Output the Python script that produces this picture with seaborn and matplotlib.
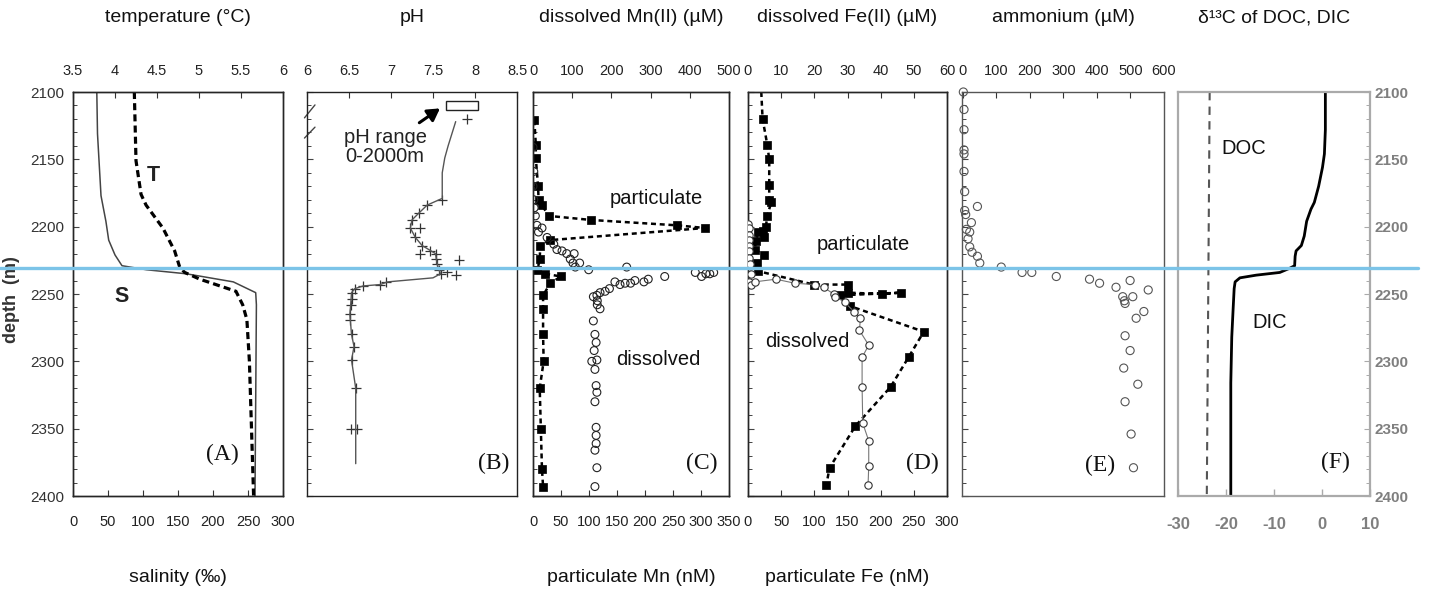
import numpy as np
import pandas as pd
import matplotlib
matplotlib.use("Agg")
import matplotlib.pyplot as plt
import seaborn as sns
from matplotlib.lines import Line2D
from matplotlib.patches import Rectangle
from matplotlib.ticker import MultipleLocator, FixedLocator

# ---------------- data ----------------
# (A) salinity (solid) and temperature (dashed)
sal_depth = [2100, 2131, 2177, 2196, 2210, 2221, 2229, 2232, 2235, 2241, 2249, 2258, 2400]
sal_val = [34, 35, 40, 47, 51, 60, 70, 105, 162, 229, 261, 262, 260]
temp_depth = [2100, 2151, 2176, 2184, 2201, 2218, 2230, 2234, 2239, 2248, 2258, 2269, 2300, 2400]
temp_val = [4.23, 4.25, 4.31, 4.37, 4.57, 4.71, 4.77, 4.83, 5.01, 5.44, 5.52, 5.57, 5.60, 5.65]

# (B) pH
ph_line_depth = [2122, 2140, 2149, 2160, 2179, 2184, 2190, 2195, 2201, 2208, 2214, 2220, 2228, 2235,
                 2238, 2241, 2243, 2244, 2246, 2249, 2258, 2265, 2280, 2289, 2299, 2320, 2376]
ph_line_val = [7.77, 7.68, 7.64, 7.61, 7.61, 7.43, 7.33, 7.25, 7.23, 7.29, 7.37, 7.53, 7.55, 7.59,
               7.50, 6.96, 6.87, 6.67, 6.57, 6.53, 6.52, 6.51, 6.53, 6.56, 6.53, 6.58, 6.58]
ph_pt_depth = [2120, 2180, 2184, 2190, 2195, 2201, 2201, 2208, 2214, 2220, 2218, 2220, 2224, 2225,
               2228, 2232, 2234, 2236, 2235, 2241, 2243, 2244, 2246, 2249, 2254, 2258, 2265, 2269,
               2280, 2289, 2299, 2320, 2350, 2350]
ph_pt_val = [7.90, 7.61, 7.43, 7.33, 7.25, 7.23, 7.35, 7.29, 7.37, 7.34, 7.47, 7.53, 7.53, 7.81,
             7.55, 7.57, 7.67, 7.77, 7.59, 6.94, 6.87, 6.67, 6.57, 6.53, 6.53, 6.52, 6.51, 6.51,
             6.53, 6.56, 6.53, 6.58, 6.52, 6.60]
ph_range = [7.65, 8.04]          # pH range 0-2000 m
ph_range_depth = [2107, 2113]

# (C) manganese
mnp_depth = [2121, 2139, 2149, 2170, 2180, 2184, 2192, 2195, 2199, 2201, 2210, 2214, 2224, 2232,
             2235, 2237, 2242, 2251, 2261, 2280, 2300, 2320, 2350, 2380, 2393]
mnp_val = [2.4, 5, 5, 9, 10, 16, 28, 103, 257, 307, 30, 13, 12, 8, 22, 50, 31, 18, 18, 18, 19, 12,
           14, 16, 18]
mnd_depth = [2141, 2159, 2170, 2180, 2186, 2192, 2199, 2201, 2204, 2208, 2213, 2217, 2218, 2220,
             2220, 2224, 2227, 2230, 2227, 2232, 2230, 2237, 2234, 2237, 2235, 2235, 2234, 2239,
             2241, 2240, 2242, 2242, 2243, 2241, 2246, 2248, 2249, 2251, 2252, 2255, 2261, 2258,
             2270, 2280, 2286, 2292, 2300, 2299, 2306, 2318, 2323, 2330, 2349, 2355, 2361, 2366,
             2379, 2393]
mnd_val = [0, 2, 0, 2, 3, 6, 10, 23, 14, 36, 53, 61, 74, 86, 105, 95, 102, 108, 119, 142, 239, 336,
           414, 430, 441, 451, 461, 294, 283, 260, 249, 235, 222, 209, 195, 184, 171, 163, 154, 164,
           171, 164, 154, 158, 161, 156, 150, 163, 158, 161, 163, 158, 161, 161, 161, 158, 163, 158]

# (D) iron
fep_depth = [2100, 2120, 2139, 2150, 2169, 2180, 2182, 2192, 2200, 2203, 2208, 2204, 2211, 2217,
             2221, 2227, 2233, 2243, 2243, 2249, 2250, 2249, 2251, 2259, 2278, 2297, 2319, 2348,
             2379, 2392]
fep_val = [20, 22, 29, 32, 32, 32, 35, 29, 27, 22, 24, 15, 12, 10, 24, 14, 15, 99, 151, 151, 202,
           231, 139, 154, 265, 242, 215, 162, 123, 118]
fed_depth = [2198, 2201, 2206, 2210, 2214, 2218, 2223, 2228, 2235, 2241, 2243, 2241, 2239, 2242,
             2243, 2245, 2250, 2252, 2256, 2263, 2268, 2277, 2288, 2297, 2319, 2346, 2359, 2378,
             2392]
fed_val = [0.0, 0.2, 0.2, 0.4, 0.2, 0.4, 0.4, 0.7, 1.0, 0.2, 1.0, 2.0, 8.4, 14.1, 20.1, 22.8, 25.8,
           26.3, 29.1, 31.9, 33.9, 33.6, 36.4, 34.4, 34.4, 34.6, 36.4, 36.4, 36.2]

# (E) ammonium
nh4_depth = [2100, 2113, 2128, 2143, 2146, 2159, 2174, 2185, 2188, 2191, 2197, 2202, 2204, 2209,
             2215, 2219, 2222, 2227, 2230, 2234, 2234, 2237, 2239, 2242, 2245, 2240, 2252, 2255,
             2257, 2252, 2247, 2263, 2268, 2281, 2292, 2305, 2317, 2330, 2354, 2379]
nh4_val = [2, 4, 4, 4, 4, 4, 6, 44, 6, 9, 26, 11, 21, 16, 21, 28, 44, 51, 115, 177, 206, 279, 378,
           408, 457, 499, 477, 482, 484, 507, 553, 540, 517, 484, 499, 480, 522, 484, 502, 509]

# (F) delta13C
doc_depth = [2100, 2400]
doc_val = [-23.4, -24.0]
dic_depth = [2100, 2128, 2146, 2156, 2170, 2182, 2187, 2196, 2207, 2214, 2218, 2222, 2229, 2231,
             2234, 2236, 2238, 2241, 2246, 2260, 2282, 2316, 2400]
dic_val = [0.7, 0.7, 0.5, 0.1, -0.7, -1.6, -2.3, -3.2, -3.7, -4.3, -5.4, -5.6, -5.7, -6.8, -8.8,
           -13.7, -17.1, -18.1, -18.3, -18.5, -18.8, -19.0, -19.0]

chemocline_depth = 2231

# ---------------- style ----------------
sns.set_theme(style="white")
plt.rcParams['font.family'] = ['Liberation Sans', 'DejaVu Sans']
plt.rcParams['axes.linewidth'] = 1.0

W, H = 1429, 598
fig = plt.figure(figsize=(W / 100, H / 100), dpi=100)


def rect(x0, x1, y0=92, y1=496):
    return [x0 / W, 1 - y1 / H, (x1 - x0) / W, (y1 - y0) / H]


TICK_C = '#222222'
TL = dict(labelsize=10.5, labelcolor=TICK_C, direction='in', color='#333333')
LBL = 14.5      # in-panel labels
SER = 17        # panel letters


def base_axis(ax, spine_color='#222222'):
    ax.set_ylim(2400, 2100)
    ax.yaxis.set_major_locator(MultipleLocator(50))
    ax.yaxis.set_minor_locator(MultipleLocator(10))
    ax.tick_params(axis='y', which='both', direction='in', left=True, right=False,
                   labelleft=False, color='#444444')
    ax.tick_params(axis='y', which='major', length=4, width=0.8)
    ax.tick_params(axis='y', which='minor', length=3, width=0.7)
    for s in ax.spines.values():
        s.set_color(spine_color)
        s.set_linewidth(1.0)
    ax.set_xlabel('')
    ax.set_ylabel('')
    ax.grid(False)


def top_axis(ax, lim, ticks, labels):
    ax.set_xlim(*lim)
    ax.xaxis.set_major_locator(FixedLocator(ticks))
    ax.set_xticklabels(labels)
    ax.tick_params(axis='x', which='major', top=True, bottom=False, labeltop=True,
                   labelbottom=False, length=4, width=0.8, pad=10, **TL)
    ax.xaxis.set_label_position('top')
    ax.set_xlabel('')


def bottom_axis(ax, lim, ticks, labels):
    ax.set_xlim(*lim)
    ax.xaxis.set_major_locator(FixedLocator(ticks))
    ax.set_xticklabels(labels)
    ax.tick_params(axis='x', which='major', bottom=True, top=False, labelbottom=True,
                   labeltop=False, length=4, width=0.8, pad=14, **TL)
    ax.set_xlabel('')


def dash(ax, pattern):
    ax.lines[-1].set_dashes(pattern)


serif = ['Liberation Serif', 'DejaVu Serif']

# ---------- (A) ----------
axA = fig.add_axes(rect(73, 283))
sns.lineplot(x=sal_val, y=sal_depth, sort=False, estimator=None, ax=axA, color='#444444', lw=1.1)
base_axis(axA)
bottom_axis(axA, (0, 300), [0, 50, 100, 150, 200, 250, 300], ['0', '50', '100', '150', '200', '250', '300'])
axA.tick_params(axis='y', which='major', labelleft=True, labelsize=11, labelcolor='#333333', pad=6)
axA.set_yticks([2100, 2150, 2200, 2250, 2300, 2350, 2400])
axA.set_yticklabels(['2100', '2150', '2200', '2250', '2300', '2350', '2400'])
axA.set_ylim(2400, 2100)
axAt = axA.twiny()
sns.lineplot(x=temp_val, y=temp_depth, sort=False, estimator=None, ax=axAt, color='black', lw=2.3)
dash(axAt, [2.2, 1.3])
top_axis(axAt, (3.5, 6), [3.5, 4, 4.5, 5, 5.5, 6], ['3.5', '4', '4.5', '5', '5.5', '6'])
axAt.set_ylim(2400, 2100)
axAt.set_ylabel('')
axA.text(115, 2162, 'T', fontsize=15.5, fontweight='bold', color='#222222', ha='center', va='center')
axA.text(69, 2252, 'S', fontsize=15.5, fontweight='bold', color='#222222', ha='center', va='center')
axA.text(214, 2369, '(A)', fontsize=SER, family=serif, ha='center', va='center', color='#111111')

# ---------- (B) ----------
axB = fig.add_axes(rect(307, 517))
sns.lineplot(x=ph_line_val, y=ph_line_depth, sort=False, estimator=None, ax=axB, color='#555555', lw=1.0)
sns.scatterplot(x=ph_pt_val, y=ph_pt_depth, ax=axB, marker='+', s=45, color='#333333', linewidth=0.9)
base_axis(axB)
top_axis(axB, (6, 8.5), [6, 6.5, 7, 7.5, 8, 8.5], ['6', '6.5', '7', '7.5', '8', '8.5'])
axB.set_ylim(2400, 2100)
axB.add_patch(Rectangle((ph_range[0], ph_range_depth[0]), ph_range[1] - ph_range[0],
                        ph_range_depth[1] - ph_range_depth[0], fill=False, ec='#222222', lw=1.0))
axB.annotate('', xy=(ph_range[0] - 0.04, 2111), xytext=(7.31, 2124),
             arrowprops=dict(arrowstyle='-|>,head_length=0.6,head_width=0.35', color='black', lw=2.2))
axB.text(6.93, 2141, 'pH range\n0-2000m', fontsize=LBL, ha='center', va='center', color='#222222',
         linespacing=1.0)
for y0, y1 in [(0.936, 0.968), (0.886, 0.913)]:
    axB.plot([-0.012, 0.038], [y0, y1], transform=axB.transAxes, color='#444444', lw=1.0, clip_on=False)
axB.text(8.22, 2376, '(B)', fontsize=SER, family=serif, ha='center', va='center', color='#111111')

# ---------- (C) ----------
axC = fig.add_axes(rect(533, 729))
sns.lineplot(x=mnp_val, y=mnp_depth, sort=False, estimator=None, ax=axC, color='black', lw=1.8)
dash(axC, [2.0, 1.5])
sns.scatterplot(x=mnp_val, y=mnp_depth, ax=axC, marker='s', s=28, color='black', edgecolor='black', linewidth=0.5)
base_axis(axC)
bottom_axis(axC, (0, 350), [0, 50, 100, 150, 200, 250, 300, 350],
            ['0', '50', '100', '150', '200', '250', '300', '350'])
axC.set_ylim(2400, 2100)
axCt = axC.twiny()
sns.scatterplot(x=mnd_val, y=mnd_depth, ax=axCt, marker='o', s=32, facecolor='none',
                edgecolor='#222222', linewidth=0.8)
top_axis(axCt, (0, 500), [0, 100, 200, 300, 400, 500], ['0', '100', '200', '300', '400', '500'])
axCt.set_ylim(2400, 2100)
axCt.set_ylabel('')
axCt.text(315, 2179, 'particulate', fontsize=LBL, ha='center', va='center', color='#111111')
axCt.text(319, 2299, 'dissolved', fontsize=LBL, ha='center', va='center', color='#111111')
axCt.text(430, 2376, '(C)', fontsize=SER, family=serif, ha='center', va='center', color='#111111')

# ---------- (D) ----------
axD = fig.add_axes(rect(748, 947))
sns.lineplot(x=fep_val, y=fep_depth, sort=False, estimator=None, ax=axD, color='black', lw=1.8)
dash(axD, [2.0, 1.5])
sns.scatterplot(x=fep_val[1:], y=fep_depth[1:], ax=axD, marker='s', s=28, color='black',
                edgecolor='black', linewidth=0.5)
base_axis(axD)
bottom_axis(axD, (0, 300), [0, 50, 100, 150, 200, 250, 300], ['0', '50', '100', '150', '200', '250', '300'])
axD.set_ylim(2400, 2100)
axDt = axD.twiny()
sns.lineplot(x=fed_val, y=fed_depth, sort=False, estimator=None, ax=axDt, color='#777777', lw=0.8)
sns.scatterplot(x=fed_val, y=fed_depth, ax=axDt, marker='o', s=28, facecolor='white',
                edgecolor='#333333', linewidth=0.8, zorder=3)
top_axis(axDt, (0, 60), [0, 10, 20, 30, 40, 50, 60], ['0', '10', '20', '30', '40', '50', '60'])
axDt.set_ylim(2400, 2100)
axDt.set_ylabel('')
axDt.text(34.9, 2213, 'particulate', fontsize=LBL, ha='center', va='center', color='#111111')
axDt.text(17.8, 2285, 'dissolved', fontsize=LBL, ha='center', va='center', color='#111111')
axDt.text(52.5, 2376, '(D)', fontsize=SER, family=serif, ha='center', va='center', color='#111111')

# ---------- (E) ----------
axE = fig.add_axes(rect(962, 1164))
sns.scatterplot(x=nh4_val, y=nh4_depth, ax=axE, marker='o', s=34, facecolor='none',
                edgecolor='#555555', linewidth=0.8, clip_on=False)
base_axis(axE, spine_color='#555555')
top_axis(axE, (-2, 600), [0, 100, 200, 300, 400, 500, 600], ['0', '100', '200', '300', '400', '500', '600'])
axE.set_ylim(2400, 2100)
axE.text(408, 2377, '(E)', fontsize=SER, family=serif, ha='center', va='center', color='#111111')

# ---------- (F) ----------
axF = fig.add_axes(rect(1178, 1370))
sns.lineplot(x=doc_val, y=doc_depth, sort=False, estimator=None, ax=axF, color='#555555', lw=1.5)
dash(axF, [4, 3])
sns.lineplot(x=dic_val, y=dic_depth, sort=False, estimator=None, ax=axF, color='black', lw=2.0)
base_axis(axF, spine_color='#aaaaaa')
for s in axF.spines.values():
    s.set_linewidth(1.6)
axF.set_xlim(-30, 10)
axF.set_xticks([-30, -20, -10, 0, 10])
axF.set_xticklabels(['-30', '-20', '-10', '0', '10'])
axF.tick_params(axis='x', which='major', bottom=True, top=False, direction='in', length=5,
                width=1.0, color='#aaaaaa', labelsize=12, labelcolor='#7f7f7f', pad=15)
for t in axF.get_xticklabels():
    t.set_fontweight('bold')
axF.set_yticks([2100, 2150, 2200, 2250, 2300, 2350, 2400])
axF.set_yticklabels(['2100', '2150', '2200', '2250', '2300', '2350', '2400'])
axF.set_ylim(2400, 2100)
axF.tick_params(axis='y', which='both', left=False, right=True, labelleft=False, labelright=True,
                color='#aaaaaa', labelsize=11, labelcolor='#7f7f7f', pad=3)
for t in axF.get_yticklabels():
    t.set_fontweight('bold')
axF.text(-16.4, 2142, 'DOC', fontsize=LBL, ha='center', va='center', color='#111111')
axF.text(-11.0, 2271, 'DIC', fontsize=LBL, ha='center', va='center', color='#111111')
axF.text(2.9, 2375, '(F)', fontsize=SER, family=serif, ha='center', va='center', color='#111111')

# ---------- titles and labels ----------
titles = [('temperature (°C)', 178), ('pH', 412), ('dissolved Mn(II) (µM)', 631),
          ('dissolved Fe(II) (µM)', 847), ('ammonium (µM)', 1063), ('δ¹³C of DOC, DIC', 1274)]
for txt, xc in titles:
    fig.text(xc / W, 1 - 18 / H, txt, ha='center', va='center', fontsize=14, color='#111111')
bottoms = [('salinity (‰)', 178), ('particulate Mn (nM)', 631), ('particulate Fe (nM)', 847)]
for txt, xc in bottoms:
    fig.text(xc / W, 1 - 577 / H, txt, ha='center', va='center', fontsize=14, color='#111111')
fig.text(12 / W, 1 - 300 / H, 'depth  (m)', rotation=90, ha='center', va='center', fontsize=13,
         fontweight='bold', color='#333333')

# ---------- chemocline line across all panels ----------
yfig = fig.transFigure.inverted().transform(axA.transData.transform((0, chemocline_depth)))[1]
fig.add_artist(Line2D([0, 1418 / W], [yfig, yfig], transform=fig.transFigure, color='#7cc4e8',
                      lw=2.4, zorder=10))

fig.savefig('out.png', dpi=100)
